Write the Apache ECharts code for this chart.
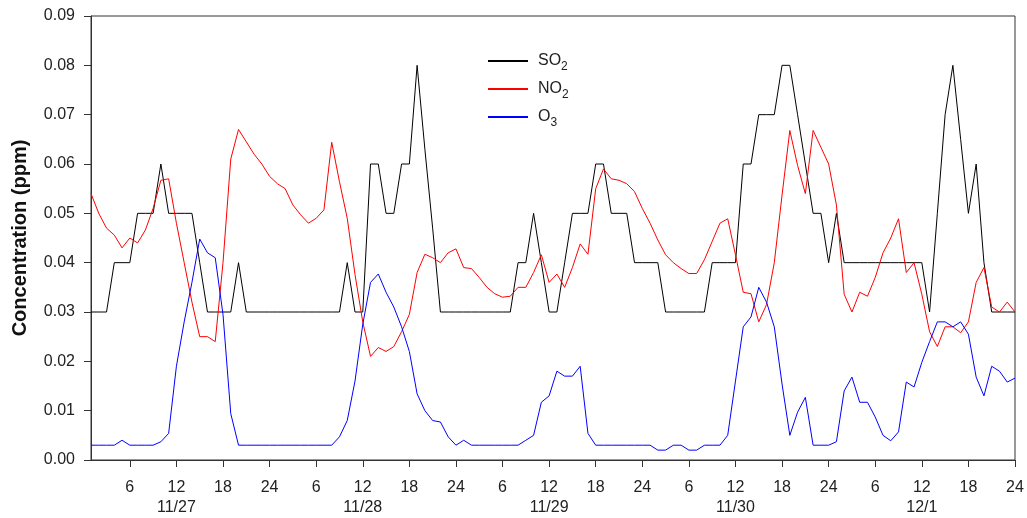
<!DOCTYPE html>
<html>
<head>
<meta charset="utf-8">
<script src="https://cdn.jsdelivr.net/npm/echarts@6/dist/echarts.min.js"></script>
<style>
html,body{margin:0;padding:0;background:#fff;}
#c{width:1027px;height:518px;}
</style>
</head>
<body>
<div id="c"></div>
<script>
// hours 1..120 (5 days)
var hours = [];
for (var i = 1; i <= 120; i++) hours.push(i);
var dayLabels = ['11/27', '11/28', '11/29', '11/30', '12/1'];
var yTicks = [0, 0.01, 0.02, 0.03, 0.04, 0.05, 0.06, 0.07, 0.08, 0.09];

var so2 = [
  0.03,0.03,0.03,0.04,0.04,0.04,0.05,0.05,0.05,0.06,0.05,0.05,0.05,0.05,0.04,0.03,0.03,0.03,0.03,0.04,0.03,0.03,0.03,0.03,
  0.03,0.03,0.03,0.03,0.03,0.03,0.03,0.03,0.03,0.04,0.03,0.03,0.06,0.06,0.05,0.05,0.06,0.06,0.08,0.063,0.047,0.03,0.03,0.03,
  0.03,0.03,0.03,0.03,0.03,0.03,0.03,0.04,0.04,0.05,0.04,0.03,0.03,0.04,0.05,0.05,0.05,0.06,0.06,0.05,0.05,0.05,0.04,0.04,
  0.04,0.04,0.03,0.03,0.03,0.03,0.03,0.03,0.04,0.04,0.04,0.04,0.06,0.06,0.07,0.07,0.07,0.08,0.08,0.07,0.06,0.05,0.05,0.04,
  0.05,0.04,0.04,0.04,0.04,0.04,0.04,0.04,0.04,0.04,0.04,0.04,0.03,0.05,0.07,0.08,0.065,0.05,0.06,0.04,0.03,0.03,0.03,0.03
];
var no2 = [
  0.054,0.050,0.047,0.0456,0.043,0.045,0.044,0.0466,0.051,0.0567,0.057,0.048,0.040,0.032,0.025,0.025,0.024,0.040,0.061,0.067,0.0645,0.062,0.060,0.0575,
  0.056,0.055,0.0517,0.0497,0.048,0.049,0.0507,0.0644,0.0564,0.049,0.0376,0.028,0.021,0.0228,0.022,0.023,0.026,0.0295,0.038,0.0417,0.041,0.040,0.042,0.0428,
  0.039,0.0388,0.037,0.035,0.0337,0.033,0.0332,0.035,0.035,0.038,0.0416,0.036,0.0377,0.035,0.039,0.0438,0.0417,0.055,0.059,0.057,0.0567,0.056,0.0544,0.051,
  0.048,0.0446,0.0416,0.040,0.0388,0.0378,0.0378,0.0406,0.0443,0.048,0.0489,0.0416,0.034,0.0337,0.028,0.0315,0.040,0.0537,0.0668,0.0597,0.054,0.0668,0.0634,0.060,
  0.0517,0.0336,0.030,0.034,0.0332,0.037,0.042,0.045,0.0489,0.038,0.040,0.0336,0.026,0.023,0.027,0.027,0.0258,0.028,0.036,0.039,0.031,0.030,0.032,0.030
];
var o3 = [
  0.003,0.003,0.003,0.003,0.004,0.003,0.003,0.003,0.003,0.0037,0.0054,0.019,0.028,0.036,0.0448,0.042,0.041,0.0295,0.0094,0.003,0.003,0.003,0.003,0.003,
  0.003,0.003,0.003,0.003,0.003,0.003,0.003,0.003,0.0047,0.008,0.016,0.0275,0.036,0.0377,0.034,0.031,0.027,0.022,0.0134,0.010,0.008,0.0077,0.0047,0.003,
  0.004,0.003,0.003,0.003,0.003,0.003,0.003,0.003,0.004,0.005,0.0117,0.013,0.018,0.017,0.017,0.019,0.0054,0.003,0.003,0.003,0.003,0.003,0.003,0.003,
  0.003,0.002,0.002,0.003,0.003,0.002,0.002,0.003,0.003,0.003,0.005,0.016,0.027,0.029,0.035,0.032,0.027,0.0154,0.005,0.0097,0.0127,0.003,0.003,0.003,
  0.0037,0.014,0.0168,0.0117,0.0117,0.0087,0.005,0.0039,0.0057,0.0158,0.0148,0.0198,0.024,0.028,0.028,0.027,0.028,0.0255,0.0168,0.013,0.019,0.018,0.0158,0.0166
];

var FONT = 'Liberation Sans, Arial, sans-serif';
var chart = echarts.init(document.getElementById('c'), null, {renderer: 'canvas'});
function tickShown(index) { return (hours[index]) % 6 === 0; }
function legendName(base, sub) { return '{a|' + base + '}{b|' + sub + '}'; }

var option = {
  animation: false,
  backgroundColor: '#fff',
  grid: {left: 91, right: 12, top: 16, bottom: 55, show: true, borderColor: '#333', borderWidth: 1, containLabel: false},
  legend: {
    orient: 'vertical', left: 487, top: 53, padding: 0,
    itemWidth: 40, itemHeight: 14, itemGap: 8,
    data: ['SO2', 'NO2', 'O3'],
    itemStyle: {opacity: 0},
    formatter: function (n) { return legendName(n.slice(0, n.length - 1), n.slice(-1)); },
    textStyle: {
      fontFamily: FONT, color: '#222', padding: [0, 0, 0, 5],
      rich: {
        a: {fontSize: 16, lineHeight: 20, fontFamily: FONT, color: '#222'},
        b: {fontSize: 12, fontFamily: FONT, color: '#222', padding: [12, 0, 0, 0]}
      }
    }
  },
  xAxis: {
    type: 'category', data: hours, boundaryGap: false,
    axisLine: {lineStyle: {color: '#333', width: 1}},
    axisTick: {show: true, interval: tickShown, length: 7, inside: false, lineStyle: {color: '#333'}},
    axisLabel: {
      interval: tickShown, margin: 18, color: '#222', fontSize: 16, fontFamily: FONT, lineHeight: 20,
      formatter: function (v, idx) {
        var h = hours[idx];
        var hh = h % 24 === 0 ? 24 : h % 24;
        if (hh === 12) return '12\n' + dayLabels[Math.floor((h - 1) / 24)];
        return String(hh);
      }
    },
    splitLine: {show: false}
  },
  yAxis: {
    type: 'value', min: yTicks[0], max: yTicks[yTicks.length - 1], interval: 0.01,
    name: 'Concentration (ppm)', nameLocation: 'middle', nameGap: 61,
    nameTextStyle: {fontFamily: FONT, fontSize: 20, fontWeight: 'bold', color: '#111'},
    axisLine: {show: true, lineStyle: {color: '#333', width: 1}},
    axisTick: {show: true, length: 7, lineStyle: {color: '#333'}},
    axisLabel: {color: '#222', fontSize: 16, fontFamily: FONT, margin: 16,
      formatter: function (v) { return v.toFixed(2); }},
    splitLine: {show: false}
  },
  series: [
    {name: 'SO2', type: 'line', data: so2, symbol: 'none', lineStyle: {color: '#000', width: 1}, itemStyle: {color: '#000'}},
    {name: 'NO2', type: 'line', data: no2, symbol: 'none', lineStyle: {color: '#ff0000', width: 1}, itemStyle: {color: '#ff0000'}},
    {name: 'O3', type: 'line', data: o3, symbol: 'none', lineStyle: {color: '#0000ff', width: 1}, itemStyle: {color: '#0000ff'}}
  ]
};
chart.setOption(option);
</script>
</body>
</html>
